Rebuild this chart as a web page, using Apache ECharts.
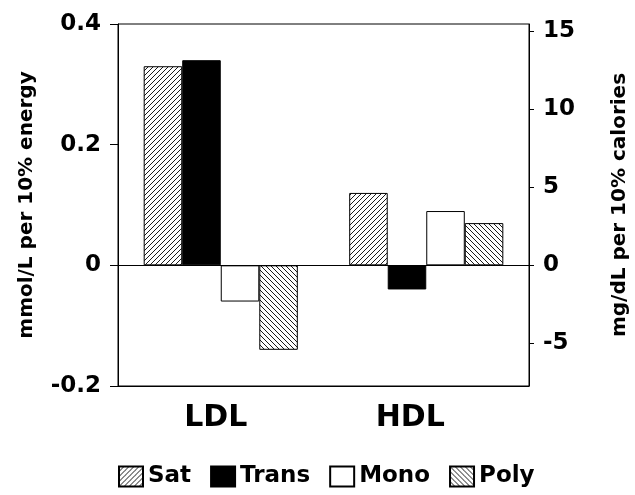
<!DOCTYPE html>
<html>
<head>
<meta charset="utf-8">
<script src="https://cdn.jsdelivr.net/npm/echarts@6/dist/echarts.min.js"></script>
<style>
html,body{margin:0;padding:0;background:#fff;}
#chart{width:635px;height:495px;}
</style>
</head>
<body>
<div id="chart"></div>
<script>
// Data
const categories = ['LDL', 'HDL'];
const seriesNames = ['Sat', 'Trans', 'Mono', 'Poly'];
const satValues = [0.33, 0.12];
const transValues = [0.34, -0.04];
const monoValues = [-0.06, 0.09];
const polyValues = [-0.14, 0.07];
const leftTicks = [-0.2, 0, 0.2, 0.4];
const rightTicks = [-5, 0, 5, 10, 15];
const MG_PER_MMOL = 38.67;

function hatch(forward) {
  const s = 5;
  const c = document.createElement('canvas');
  c.width = s; c.height = s;
  const g = c.getContext('2d');
  g.fillStyle = '#fff';
  g.fillRect(0, 0, s, s);
  g.strokeStyle = '#000';
  g.lineWidth = 0.9;
  g.beginPath();
  if (forward) {
    g.moveTo(-1, s + 1); g.lineTo(s + 1, -1);
    g.moveTo(-1, 1); g.lineTo(1, -1);
    g.moveTo(s - 1, s + 1); g.lineTo(s + 1, s - 1);
  } else {
    g.moveTo(-1, -1); g.lineTo(s + 1, s + 1);
    g.moveTo(-1, s - 1); g.lineTo(1, s + 1);
    g.moveTo(s - 1, -1); g.lineTo(s + 1, 1);
  }
  g.stroke();
  return { image: c, repeat: 'repeat' };
}

const FONT = 'DejaVu Sans';
const fills = [hatch(true), '#000', '#fff', hatch(false)];
const values = [satValues, transValues, monoValues, polyValues];

const chart = echarts.init(document.getElementById('chart'), null, { renderer: 'canvas' });

const series = seriesNames.map((name, i) => {
  const s = {
    name: name,
    type: 'bar',
    yAxisIndex: 0,
    data: values[i],
    barGap: '0%',
    barCategoryGap: '25%',
    itemStyle: { color: fills[i], borderColor: '#000', borderWidth: 1 },
    emphasis: { disabled: true },
    animation: false
  };
  if (i === 0) {
    s.markLine = {
      silent: true,
      symbol: 'none',
      label: { show: false },
      lineStyle: { color: '#000', type: 'solid', width: 1 },
      data: [{ yAxis: 0 }],
      animation: false
    };
  }
  return s;
});

chart.setOption({
  animation: false,
  backgroundColor: '#fff',
  grid: { left: 118, right: 106, top: 24, bottom: 109, show: true, borderColor: '#000', borderWidth: 1, containLabel: false, outerBoundsMode: 'none' },
  legend: {
    data: seriesNames,
    left: 118,
    top: 465,
    padding: 0,
    icon: 'rect',
    itemWidth: 24,
    itemHeight: 20,
    itemGap: 19,
    textStyle: { fontFamily: FONT, fontWeight: 'bold', fontSize: 23, color: '#000' },
    selectedMode: false
  },
  xAxis: {
    type: 'category',
    data: categories,
    axisLine: { onZero: false, lineStyle: { color: '#000' } },
    axisTick: { show: false },
    axisLabel: {
      margin: 17,
      formatter: function (v) { return v === 'LDL' ? '{a|' + v + '}' : '{b|' + v + '}'; },
      rich: {
        a: { fontFamily: FONT, fontWeight: 'bold', fontSize: 30, color: '#000', padding: [0, 10, 0, 0] },
        b: { fontFamily: FONT, fontWeight: 'bold', fontSize: 30, color: '#000', padding: [0, 32, 0, 0] }
      }
    }
  },
  yAxis: [
    {
      type: 'value',
      position: 'left',
      min: -0.2,
      max: 0.4,
      interval: 0.2,
      name: 'mmol/L per 10% energy',
      nameLocation: 'middle',
      nameRotate: 90,
      nameGap: 81,
      nameTextStyle: { fontFamily: FONT, fontWeight: 'bold', fontSize: 20, color: '#000' },
      axisLine: { show: true, lineStyle: { color: '#000' } },
      axisTick: { show: true, inside: false, length: 8, lineStyle: { color: '#000' } },
      splitLine: { show: false },
      axisLabel: {
        margin: 17,
        fontFamily: FONT, fontWeight: 'bold', fontSize: 23, color: '#000',
        formatter: function (v) { return Math.abs(v) < 1e-9 ? '0' : v.toFixed(1); }
      }
    },
    {
      type: 'value',
      position: 'right',
      min: -0.2 * MG_PER_MMOL,
      max: 0.4 * MG_PER_MMOL,
      name: 'mg/dL per 10% calories',
      nameLocation: 'middle',
      nameRotate: 90,
      nameGap: 81,
      nameTextStyle: { fontFamily: FONT, fontWeight: 'bold', fontSize: 20, color: '#000' },
      axisLine: { show: true, lineStyle: { color: '#000' } },
      axisTick: { show: true, inside: false, length: 5, customValues: rightTicks, lineStyle: { color: '#000' } },
      splitLine: { show: false },
      axisLabel: {
        margin: 14,
        customValues: rightTicks,
        fontFamily: FONT, fontWeight: 'bold', fontSize: 23, color: '#000',
        formatter: function (v) { return String(Math.round(v)); }
      }
    }
  ],
  series: series
});
</script>
</body>
</html>
